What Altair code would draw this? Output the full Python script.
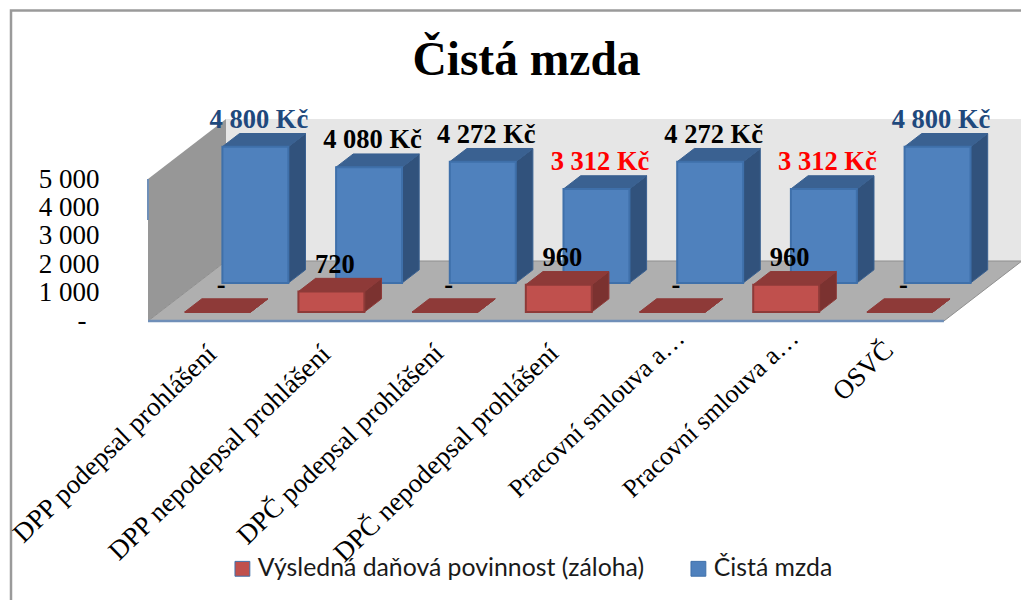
import altair as alt
import pandas as pd

CATEGORIES = ["DPP podepsal prohlášení", "DPP nepodepsal prohlášení", "DPČ podepsal prohlášení",
              "DPČ nepodepsal prohlášení", "Pracovní smlouva a…", "Pracovní smlouva a…", "OSVČ"]
NET = [4800, 4080, 4272, 3312, 4272, 3312, 4800]
TAX = [0, 720, 0, 960, 0, 960, 0]
SERIES_TAX = "Výsledná daňová povinnost (záloha)"
SERIES_NET = "Čistá mzda"
NET_COLORS = ["#1f497d", "#000000", "#000000", "#ff0000", "#000000", "#ff0000", "#1f497d"]

W, H = 1013, 592
PX_X = 113.7      # pixels per category
PX_Y = 0.0284     # pixels per Kč
X0, Y0 = 148, 321  # page pixel of the chart's front-left floor corner
DX = 78 / PX_X    # full depth, in category units
DY = 60 / PX_Y    # full depth, in Kč units
X_DOM = [(8 - X0) / PX_X, (8 + W - X0) / PX_X]
Y_DOM = [(Y0 - 8 - H) / PX_Y, (Y0 - 8) / PX_Y]
x_s = alt.Scale(domain=X_DOM, nice=False, zero=False)
y_s = alt.Scale(domain=Y_DOM, nice=False, zero=False)
X = alt.X("x:Q", scale=x_s, axis=None)
N = len(CATEGORIES)
FONT = "Liberation Serif"
Y_AXIS = alt.Axis(
    values=[1000, 2000, 3000, 4000, 5000], title=None, grid=False, domain=False, ticks=False,
    offset=-91, labelPadding=0, labelFont=FONT, labelFontSize=27, labelColor="#000000",
    labelExpr="replace(format(datum.value, ','), ',', ' ')")
Y_PLAIN = alt.Y("y:Q", scale=y_s, axis=Y_AXIS)


def px(cx, d):
    return cx + d * DX


def py(v, d):
    return v + d * DY


def faces(values, d0, series):
    dep, off, wid = 0.22, 0.22, 0.58
    top, side, front = [], [], []
    for i, v in enumerate(values):
        a, b = i + off, i + off + wid
        front.append(dict(x=px(a, d0), x2=px(b, d0), y=py(0, d0), y2=py(v, d0), s=series, cat=i, v=v))
        for d in (d0, d0 + dep):
            top.append(dict(bar=i, y=py(v, d), x=px(a, d), x2=px(b, d)))
            side.append(dict(bar=i, x=px(b, d), y=py(v, d), y2=py(0, d)))
    return pd.DataFrame(top), pd.DataFrame(side), pd.DataFrame(front)


color = alt.Color("s:N", scale=alt.Scale(domain=[SERIES_TAX, SERIES_NET], range=["#c0504d", "#4f81bd"]),
                  legend=alt.Legend(orient="none", legendX=222, legendY=548, direction="horizontal", title=None,
                                    symbolType="square", symbolSize=220, symbolStrokeWidth=1,
                                    labelFont="Lato", labelFontSize=24.8, labelColor="#1a1a1a", labelLimit=600,
                                    columnPadding=41, labelOffset=3))


def bar_layers(values, d0, series, top_c, side_c, edge):
    t, s, f = faces(values, d0, series)
    return [
        alt.Chart(s).mark_area(orient="vertical", color=side_c, stroke=top_c, strokeWidth=1).encode(
            x=X, y=Y_PLAIN, y2="y2:Q", detail="bar:N"),
        alt.Chart(t).mark_area(orient="horizontal", color=top_c, stroke=top_c, strokeWidth=1).encode(
            x=X, x2="x2:Q", y=Y_PLAIN, detail="bar:N"),
        alt.Chart(f).mark_rect(stroke=edge, strokeWidth=2).encode(
            x=X, x2="x2:Q", y=Y_PLAIN, y2="y2:Q", color=color),
    ]


one = pd.DataFrame({"a": [0]})
border = alt.Chart(one).mark_rect(filled=False, stroke="#9a9a9a", strokeWidth=2.5).encode(
    x=alt.value(3), x2=alt.value(1200), y=alt.value(2.5), y2=alt.value(900))

wall = alt.Chart(pd.DataFrame([dict(x=px(0, 1), x2=px(N, 1), y=py(0, 1), y2=py(5000, 1))])).mark_rect(
    color="#e6e6e6").encode(x=X, x2="x2:Q", y=Y_PLAIN, y2="y2:Q")
floor = alt.Chart(pd.DataFrame([dict(y=py(0, d), x=px(0, d), x2=px(N, d)) for d in (0, 1)])).mark_area(
    orient="horizontal", color="#afafaf", stroke="#8f8f8f", strokeWidth=1).encode(x=X, x2="x2:Q", y=Y_PLAIN)
left = alt.Chart(pd.DataFrame([dict(x=px(0, d), y=py(5000, d), y2=py(0, d)) for d in (0, 1)])).mark_area(
    orient="vertical", color="#979797").encode(x=X, y=Y_PLAIN, y2="y2:Q")
front_edge = alt.Chart(pd.DataFrame(dict(x=[0, N], y=[0, 0]))).mark_line(color="#6f8fb8", strokeWidth=2.5).encode(
    x=X, y=Y_PLAIN)
stub = alt.Chart(pd.DataFrame(dict(x=[0, 0], y=[5000, 3560]))).mark_line(color="#6f8fb8", strokeWidth=2).encode(
    x=X, y=Y_PLAIN)
# the zero tick of the axis reads "-", set in from the other tick labels
zero_tick = alt.Chart(pd.DataFrame(dict(x=[(82 - X0) / PX_X], y=[0], t=["-"]))).mark_text(
    font=FONT, fontSize=27, color="#000000", align="center", baseline="middle").encode(x=X, y=Y_PLAIN, text="t:N")


def fmt(v):
    return "-" if v == 0 else f"{v:,}".replace(",", " ")


def value_labels():
    rows = []
    for i, v in enumerate(NET):
        rows.append(dict(x=px(i + 0.22, 0.633) + 0.29, y=py(v, 0.633), t=fmt(v) + " Kč", c=NET_COLORS[i]))
    for i, v in enumerate(TAX):
        rows.append(dict(x=px(i + 0.22, 0.15) + 0.29, y=py(v, 0.15), t=fmt(v), c="#000000"))
    df = pd.DataFrame(rows)
    out = []
    for c, g in df.groupby("c"):
        out.append(alt.Chart(g).mark_text(font=FONT, fontWeight="bold", fontSize=26.5, color=c, baseline="alphabetic",
                                          align="center", dx=3.5, dy=-19).encode(x=X, y=Y_PLAIN, text="t:N"))
    return out


# page-pixel end points, slants and sizes of the category labels
LABEL_END_X = [218, 332, 445, 560, 686, 800, 895]
LABEL_END_Y = [356, 356, 355, 355, 340, 340, 352]
LABEL_ANGLE = [316, 316, 316, 316, 316.5, 316.5, 316]
LABEL_SIZE = [27, 27, 27, 27, 26, 26, 27]
cat_df = pd.DataFrame(dict(
    x=[(p - X0) / PX_X for p in LABEL_END_X],
    y=[(Y0 - p) / PX_Y for p in LABEL_END_Y],
    a=LABEL_ANGLE,
    fs=LABEL_SIZE,
    t=CATEGORIES))
cat_labels = alt.Chart(cat_df).mark_text(font=FONT, color="#000000", align="right",
                                         baseline="alphabetic").encode(
    x=X, y=Y_PLAIN, text="t:N", angle=alt.Angle("a:Q", scale=None), size=alt.Size("fs:Q", scale=None))

layers = [border, wall, left, floor, front_edge, stub, zero_tick]
layers += bar_layers(NET, 0.633, SERIES_NET, "#3a6191", "#31527c", "#3f70aa")
layers += bar_layers(TAX, 0.15, SERIES_TAX, "#8e3a38", "#7b3230", "#8e3a38")
layers += value_labels() + [cat_labels]

chart = alt.layer(*layers).properties(
    width=W, height=H, padding=0, autosize=alt.AutoSizeParams(type="none"),
    title=alt.TitleParams(SERIES_NET, font=FONT, fontWeight="bold", fontSize=47.5, color="#000000",
                          anchor="middle", dx=12, dy=80),
).configure_view(stroke=None)

chart.save("out.html", embed_options={"renderer": "svg", "actions": False})
